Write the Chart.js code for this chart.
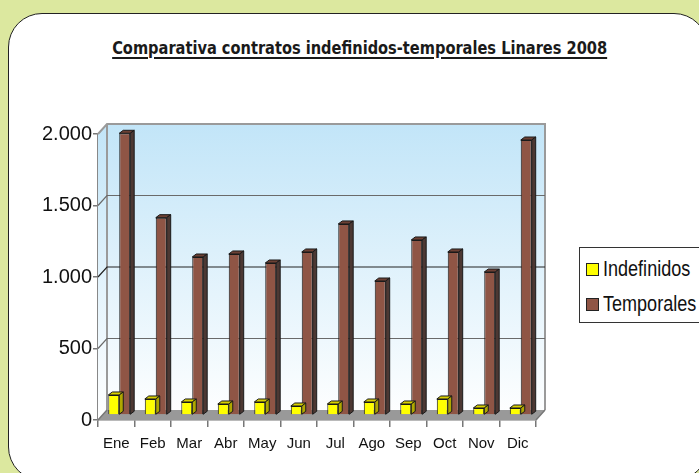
<!DOCTYPE html>
<html>
<head>
<meta charset="utf-8">
<script src="https://cdn.jsdelivr.net/npm/chart.js@4"></script>
<style>
  html, body { margin: 0; padding: 0; }
  body { width: 699px; height: 473px; overflow: hidden; background: #dce89f; position: relative; }
  #panel { position: absolute; left: 8px; top: 13px; width: 698px; height: 466px;
           border: 1.5px solid #222; border-radius: 34px; background: #fff; }
  #chartBox { position: absolute; left: 0; top: 0; width: 740px; height: 473px; }
  #title { position: absolute; top: 37px; left: 0; width: 720px; text-align: center; }
  #title span { display: inline-block; font: bold 18px 'DejaVu Sans Condensed', 'DejaVu Sans', sans-serif;
                color: #1a1a1a; text-decoration: underline; text-decoration-thickness: 2px;
                text-underline-offset: 3px; transform-origin: center; white-space: nowrap; }
  #legend { position: absolute; left: 579px; top: 247px; width: 160px; height: 74px;
            border: 1px solid #333; background: #fff; }
  .item { position: absolute; left: 6px; height: 24px; display: flex; align-items: center;
          font: 22px 'Liberation Sans', Arial, sans-serif; color: #111; white-space: nowrap; }
  .item span { display: inline-block; transform: scaleX(0.82); transform-origin: left center; }
  .sw { width: 11px; height: 11px; border: 1px solid #222; margin-right: 4px; }
</style>
</head>
<body>
<div id="panel"></div>
<div id="title"><span>Comparativa contratos indefinidos-temporales Linares 2008</span></div>
<div id="chartBox"><canvas id="myChart" width="740" height="473"></canvas></div>
<div id="legend"></div>
<script>
const meses = ['Ene', 'Feb', 'Mar', 'Abr', 'May', 'Jun', 'Jul', 'Ago', 'Sep', 'Oct', 'Nov', 'Dic'];
const indefinidos = [140, 112, 91, 77, 91, 63, 77, 91, 77, 112, 49, 49];
const temporales = [1970, 1380, 1105, 1126, 1063, 1140, 1336, 937, 1224, 1140, 1000, 1923];
const yTicks = [0, 500, 1000, 1500, 2000];

const sans = "'Liberation Sans', Arial, sans-serif";

// stretch the title to the width it has in the picture
const t = document.querySelector('#title span');
t.style.transform = 'scaleX(' + (495 / t.getBoundingClientRect().width) + ')';

// depth of the back wall and of the bars
const DX = 9, DY = 10, BX = 4, BY = 3;

const shade = {
  'Indefinidos': { top: '#d8d000', side: '#b0a800' },
  'Temporales': { top: '#6c4034', side: '#4c3833' }
};

const box3d = {
  id: 'box3d',
  beforeDatasetsDraw(chart) {
    const { ctx, chartArea: a, scales } = chart;
    const y = scales.y;
    ctx.save();
    const g = ctx.createLinearGradient(0, a.top - DY, 0, a.bottom);
    g.addColorStop(0, '#c2e5f8');
    g.addColorStop(1, '#ffffff');
    ctx.fillStyle = g;
    // left wall + back wall
    ctx.beginPath();
    ctx.moveTo(a.left, a.bottom);
    ctx.lineTo(a.left, a.top);
    ctx.lineTo(a.left + DX, a.top - DY);
    ctx.lineTo(a.right + DX, a.top - DY);
    ctx.lineTo(a.right + DX, a.bottom - DY);
    ctx.lineTo(a.left + DX, a.bottom - DY);
    ctx.closePath();
    ctx.fill();
    ctx.strokeStyle = '#9a9a9a';
    ctx.lineWidth = 2;
    ctx.beginPath();
    ctx.moveTo(a.left, a.top);
    ctx.lineTo(a.left + DX, a.top - DY);
    ctx.lineTo(a.right + DX, a.top - DY);
    ctx.lineTo(a.right + DX, a.bottom - DY);
    ctx.moveTo(a.left + DX, a.top - DY);
    ctx.lineTo(a.left + DX, a.bottom - DY);
    ctx.stroke();
    // grid lines on the back wall
    ctx.lineWidth = 1.2;
    yTicks.forEach(v => {
      if (v === 0 || v === 2000) return;
      const py = y.getPixelForValue(v);
      ctx.strokeStyle = v === 1000 ? '#222' : '#6a6a6a';
      ctx.beginPath();
      ctx.moveTo(a.left, py);
      ctx.lineTo(a.left + DX, py - DY);
      ctx.lineTo(a.right + DX, py - DY);
      ctx.stroke();
    });
    // floor
    ctx.fillStyle = '#999';
    ctx.beginPath();
    ctx.moveTo(a.left, a.bottom);
    ctx.lineTo(a.right, a.bottom);
    ctx.lineTo(a.right + DX, a.bottom - DY);
    ctx.lineTo(a.left + DX, a.bottom - DY);
    ctx.closePath();
    ctx.fill();
    ctx.strokeStyle = '#777';
    ctx.lineWidth = 1.5;
    ctx.beginPath();
    ctx.moveTo(a.left, a.bottom);
    ctx.lineTo(a.left + DX, a.bottom - DY);
    ctx.moveTo(a.right, a.bottom);
    ctx.lineTo(a.right + DX, a.bottom - DY);
    ctx.stroke();
    ctx.restore();
    // bars sit half way into the box
    ctx.save();
    ctx.translate(3, -5);
  },
  afterDatasetDraw(chart, args) {
    const ctx = chart.ctx;
    const ds = chart.data.datasets[args.index];
    const c = shade[ds.label];
    ctx.save();
    ctx.strokeStyle = '#1a1a1a';
    ctx.lineWidth = 1;
    args.meta.data.forEach(bar => {
      const l = bar.x - bar.width / 2, r = bar.x + bar.width / 2;
      ctx.fillStyle = c.top;
      ctx.beginPath();
      ctx.moveTo(l, bar.y);
      ctx.lineTo(l + BX, bar.y - BY);
      ctx.lineTo(r + BX, bar.y - BY);
      ctx.lineTo(r, bar.y);
      ctx.closePath();
      ctx.fill();
      ctx.stroke();
      ctx.fillStyle = c.side;
      ctx.beginPath();
      ctx.moveTo(r, bar.y);
      ctx.lineTo(r + BX, bar.y - BY);
      ctx.lineTo(r + BX, bar.base - BY);
      ctx.lineTo(r, bar.base);
      ctx.closePath();
      ctx.fill();
      ctx.stroke();
    });
    ctx.restore();
  },
  afterDatasetsDraw(chart) {
    chart.ctx.restore();
  }
};

const chart = new Chart(document.getElementById('myChart'), {
  type: 'bar',
  data: {
    labels: meses,
    datasets: [{
      label: 'Indefinidos',
      data: indefinidos,
      backgroundColor: '#ffff00',
      borderColor: '#1a1a1a',
      borderWidth: 1,
      clip: false
    }, {
      label: 'Temporales',
      data: temporales,
      backgroundColor: '#8f5545',
      borderColor: '#1a1a1a',
      borderWidth: 1,
      clip: false
    }]
  },
  options: {
    responsive: false,
    animation: false,
    events: [],
    layout: { padding: { top: 134, right: 204, left: 0, bottom: 0 } },
    datasets: { bar: { categoryPercentage: 0.6, barPercentage: 1 } },
    plugins: {
      legend: { display: false },
      title: { display: false },
      tooltip: { enabled: false }
    },
    scales: {
      x: {
        afterFit(scale) { scale.height = 53; },
        grid: { offset: true, drawOnChartArea: false, tickLength: 7, color: '#777', lineWidth: 1.5 },
        border: { color: '#777', width: 1.5 },
        ticks: { color: '#111', padding: 8, font: { family: sans, size: 15 } }
      },
      y: {
        min: 0,
        max: 2000,
        afterFit(scale) { scale.width = 98; },
        afterBuildTicks(scale) { scale.ticks = yTicks.map(v => ({ value: v })); },
        grid: { drawOnChartArea: false, tickLength: 5, color: '#777', lineWidth: 1.5 },
        border: { color: '#888', width: 1.5 },
        ticks: {
          color: '#111',
          padding: 1,
          font: { family: sans, size: 20 },
          callback: v => v.toLocaleString('de-DE')
        }
      }
    }
  },
  plugins: [box3d]
});

// legend built from the datasets
const legend = document.getElementById('legend');
chart.data.datasets.forEach((ds, i) => {
  const it = document.createElement('div');
  it.className = 'item';
  it.style.top = (9 + i * 35) + 'px';
  it.innerHTML = '<div class="sw" style="background:' + ds.backgroundColor + '"></div><span>' + ds.label + '</span>';
  legend.appendChild(it);
});
</script>
</body>
</html>
